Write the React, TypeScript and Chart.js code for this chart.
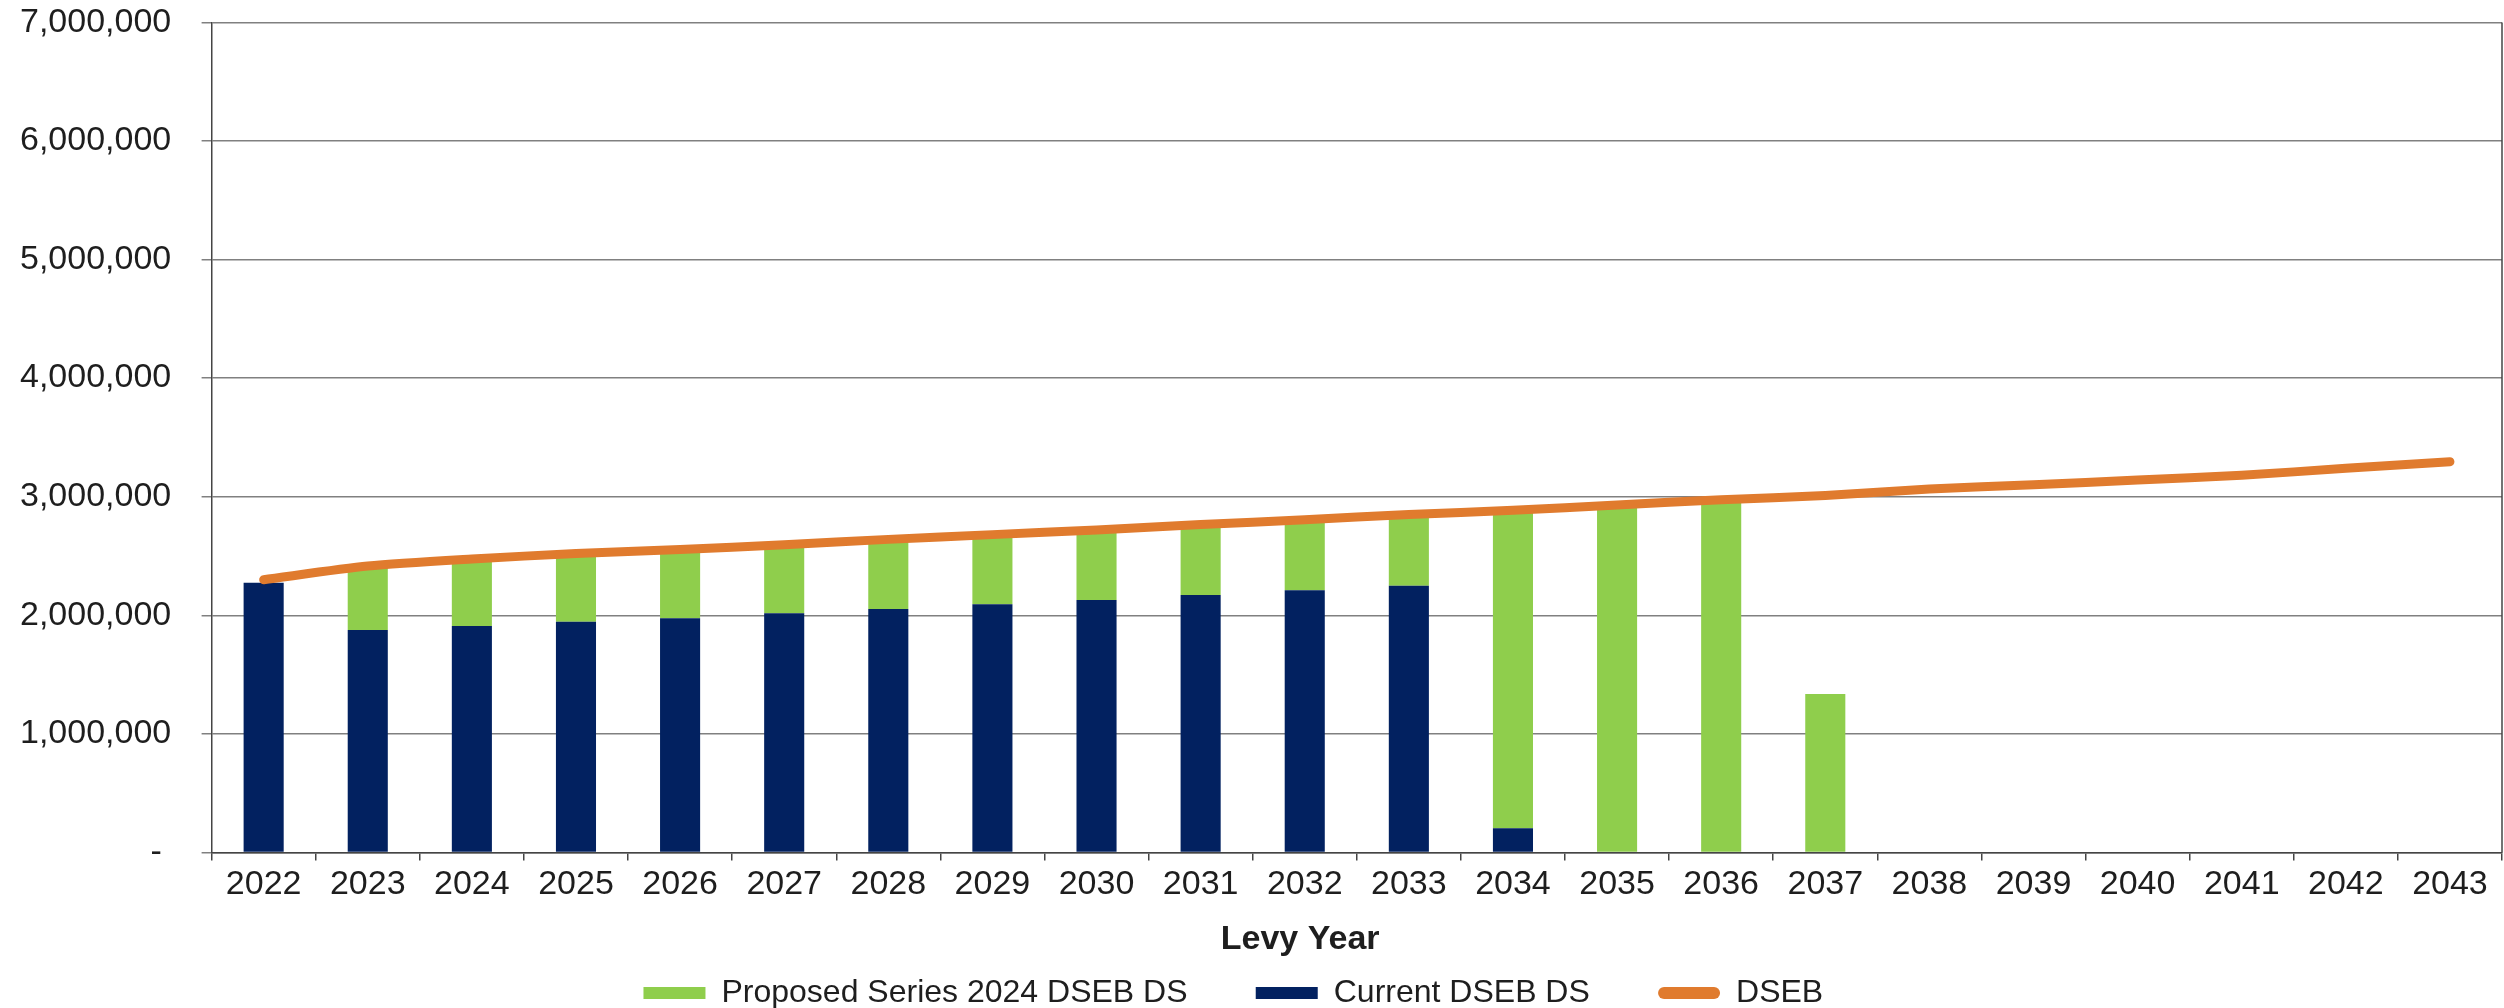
import React, { useEffect, useRef } from "react";
import { Chart, registerables } from "chart.js";

Chart.register(...registerables);

const years = [
  "2022", "2023", "2024", "2025", "2026", "2027", "2028", "2029", "2030", "2031", "2032",
  "2033", "2034", "2035", "2036", "2037", "2038", "2039", "2040", "2041", "2042", "2043",
];

const proposedSeries2024DS = [
  0, 540000, 565000, 574000, 580000, 578000, 588000, 588000, 592000, 595000, 595000,
  602000, 2681000, 2930000, 2975000, 1335000, 0, 0, 0, 0, 0, 0,
];

const currentDS = [
  2275000, 1875000, 1910000, 1946000, 1975000, 2017000, 2052000, 2092000, 2128000, 2170000, 2210000,
  2248000, 204000, 0, 0, 0, 0, 0, 0, 0, 0, 0,
];

const dseb = [
  2300000, 2415000, 2475000, 2520000, 2555000, 2595000, 2640000, 2680000, 2720000, 2765000, 2805000,
  2850000, 2885000, 2930000, 2975000, 3010000, 3065000, 3100000, 3140000, 3180000, 3240000, 3295000,
];

const yMin = 0;
const yMax = 7000000;
const yStep = 1000000;
const zeroLabel = "-";

const xTitle = "Levy Year";
const labelProposed = "Proposed Series 2024 DSEB DS";
const labelCurrent = "Current DSEB DS";
const labelDseb = "DSEB";

// trailing spacing used only to place the real-text labels
const legendGap = "       ";
const legendTail = "      ";
const yLabelTail = "   ";
const zeroTail = "    ";
const titleTail = "            ";

const NAVY = "#022160";
const GREEN = "#8fce4c";
const ORANGE = "#e07b2e";
const GRID = "#808080";
const AXIS = "#444444";
const TEXT = "#1e1e1e";
const FAMILY = "'Liberation Sans', Arial, sans-serif";

const rightBorder = {
  id: "rightBorder",
  beforeDatasetsDraw(chart: any) {
    const { ctx, chartArea } = chart;
    ctx.save();
    ctx.strokeStyle = AXIS;
    ctx.lineWidth = 1.5;
    ctx.beginPath();
    ctx.moveTo(chartArea.right, chartArea.top);
    ctx.lineTo(chartArea.right, chartArea.bottom);
    ctx.stroke();
    ctx.restore();
  },
};

export default function App() {
  const ref = useRef<HTMLCanvasElement>(null);

  useEffect(() => {
    if (!ref.current) return;
    const legendRank: Record<number, number> = { 2: 0, 1: 1, 0: 2 };
    const chart = new Chart(ref.current, {
      type: "bar",
      data: {
        labels: years,
        datasets: [
          {
            type: "line",
            label: labelDseb + legendTail,
            data: dseb,
            borderColor: ORANGE,
            backgroundColor: ORANGE,
            borderWidth: 9,
            pointRadius: 0,
            pointHoverRadius: 0,
            tension: 0.25,
            borderCapStyle: "round",
            borderJoinStyle: "round",
            fill: false,
            order: 0,
            stack: "dseb",
          } as any,
          {
            type: "bar",
            label: labelCurrent + legendGap,
            data: currentDS,
            backgroundColor: NAVY,
            borderWidth: 0,
            barPercentage: 0.385,
            categoryPercentage: 1,
            order: 1,
            stack: "ds",
          },
          {
            type: "bar",
            label: labelProposed + legendGap,
            data: proposedSeries2024DS,
            backgroundColor: GREEN,
            borderWidth: 0,
            barPercentage: 0.385,
            categoryPercentage: 1,
            order: 2,
            stack: "ds",
          },
        ],
      },
      options: {
        responsive: false,
        animation: false,
        devicePixelRatio: 1,
        layout: { autoPadding: false, padding: { left: 18, right: 2, top: 22, bottom: 0 } },
        scales: {
          x: {
            stacked: true,
            offset: true,
            grid: {
              offset: true,
              drawOnChartArea: false,
              tickLength: 8,
              color: AXIS,
              lineWidth: 1.5,
            },
            border: { color: AXIS, width: 1.5 },
            ticks: {
              font: { family: FAMILY, size: 34 },
              color: TEXT,
              padding: 4,
              maxRotation: 0,
              autoSkip: false,
            },
            title: {
              display: true,
              text: xTitle + titleTail,
              font: { family: FAMILY, size: 34, weight: "bold" },
              color: TEXT,
              padding: { top: 10, bottom: 11 },
            },
          },
          y: {
            stacked: true,
            min: yMin,
            max: yMax,
            ticks: {
              stepSize: yStep,
              font: { family: FAMILY, size: 34 },
              color: TEXT,
              padding: 2,
              callback: (v: any) =>
                Number(v) === 0 ? zeroLabel + zeroTail : Number(v).toLocaleString("en-US") + yLabelTail,
            },
            grid: { color: GRID, lineWidth: 1.5, tickLength: 10 },
            border: { color: AXIS, width: 1.5 },
          },
        },
        plugins: {
          tooltip: { enabled: false },
          legend: {
            position: "bottom",
            labels: {
              font: { family: FAMILY, size: 32 },
              color: TEXT,
              boxWidth: 62,
              boxHeight: 12,
              padding: 6,
              useBorderRadius: true,
              sort: (a: any, b: any) => legendRank[a.datasetIndex] - legendRank[b.datasetIndex],
              generateLabels: (c: any) => {
                const items = (Chart.defaults.plugins.legend.labels as any).generateLabels(c);
                return items.map((it: any) => ({
                  ...it,
                  lineWidth: 0,
                  strokeStyle: "rgba(0,0,0,0)",
                  borderRadius: it.datasetIndex === 0 ? 6 : 0,
                }));
              },
            },
          } as any,
        },
      },
      plugins: [rightBorder],
    });
    return () => chart.destroy();
  }, []);

  return (
    <div
      style={{
        position: "absolute",
        left: 0,
        top: 0,
        width: 2504,
        height: 1008,
        overflow: "hidden",
        background: "#ffffff",
      }}
    >
      <canvas
        ref={ref}
        width={2504}
        height={1019}
        style={{ display: "block", width: 2504, height: 1019 }}
      />
    </div>
  );
}
